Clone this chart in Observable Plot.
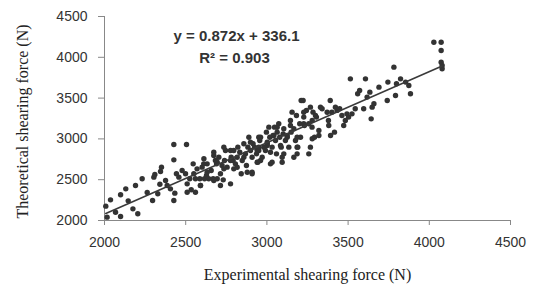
<!DOCTYPE html>
<html>
<head>
<meta charset="utf-8">
<script src="https://cdn.jsdelivr.net/npm/d3@7"></script>
<script src="https://cdn.jsdelivr.net/npm/@observablehq/plot@0.6"></script>
<style>
  html, body { margin: 0; padding: 0; background: #fff; }
  #chart svg { display: block; }
</style>
</head>
<body>
<div id="chart"></div>
<script>
// Experimental shearing force (N)
const expX = [
  2008,2016,2037,2068,2099,2099,2131,2146,2175,2191,2205,2232,2263,2296,2304,2310,2328,2341,2345,2351,
  2376,2386,2406,2427,2427,2427,2433,2443,2458,2478,2499,2505,2509,2525,2534,2546,2560,2570,2587,2591,
  2601,2612,2616,2628,2632,2642,2657,2669,2673,2683,2690,2694,2704,2714,2714,2724,2731,2739,2745,2755,
  2776,2780,2792,2796,2806,2817,2821,2833,2842,2848,2858,2868,2874,2883,2889,2899,2909,2915,2924,2936,
  2944,2950,2956,2971,2981,2991,2997,3002,3012,3018,3022,3032,3038,3047,3053,3059,3063,3073,3079,3088,
  3094,3100,3114,3125,3135,3145,3149,3155,3166,3176,3182,3186,3190,3202,3207,3211,3223,3227,3231,3243,
  3258,3278,3284,3293,3305,3320,3330,3340,3379,3390,3400,3416,3432,3448,3462,3473,3483,3493,3503,3514,
  3524,3544,3559,3571,3596,3607,3617,3634,3642,3648,3659,3690,3741,3745,3782,3792,3798,3823,3854,3874,
  3884,4028,4073,4073,4073,4079,4079,
  3268,3227,3299,3371,3422,3279,3227,3381,3063,3145,3104,3320,3392,2950,3043,3125,3186,3279,3002,3084,
  3186,3268,2940,3022,3104,3258,2961,3032,3166,3094,2909,
  2673,2735,2796,2899,2961,2950,3002,2611,2694,2776,2858,2940,2550,2632,2735,2817,2879,2509,2591,2673,
  2776,2909,2560
];
// Theoretical shearing force (N)
const theoY = [
  2176,2041,2253,2102,2049,2315,2388,2241,2143,2429,2082,2511,2343,2245,2531,2564,2327,2445,2600,2654,
  2490,2429,2388,2931,2743,2245,2335,2572,2531,2613,2572,2931,2347,2511,2376,2694,2511,2633,2511,2429,
  2654,2756,2511,2551,2694,2511,2613,2511,2837,2735,2694,2511,2776,2572,2429,2674,2498,2735,2858,2654,
  2858,2776,2735,2633,2694,2776,2899,2837,2572,2735,2940,2817,2674,2899,3021,2858,2776,2940,2899,2817,
  2715,2858,2981,2776,2899,2858,3083,2960,3144,3021,2694,2899,3042,3144,2981,2817,3083,3185,3021,2899,
  2776,3062,2981,3021,2899,3226,3083,3328,3124,2981,3287,2817,2899,3185,3021,3471,3471,3267,3165,3349,
  3185,3144,3328,3021,3267,3042,3389,3369,3226,3471,3328,3083,3349,3369,3287,3165,3226,3307,3267,3736,
  3307,3369,3553,3593,3369,3736,3512,3573,3246,3389,3430,3634,3471,3696,3879,3532,3675,3736,3696,3654,
  3553,4185,4185,4083,3940,3900,3859,
  3389,3327,3287,3327,3389,3225,3185,3164,3143,3164,3124,3103,3041,3021,3041,3041,3021,3001,2940,2919,
  2899,2899,2858,2837,2817,2817,2735,2714,2776,2714,2592,
  2797,2899,2858,2960,3021,2899,2919,2694,2714,2735,2776,2714,2572,2592,2633,2653,2592,2449,2429,2490,
  2449,2572,2347
];
// Trend line shown in the chart: y = 0.872x + 336.1 over the data range
const trendSlope = 0.872;
const trendIntercept = 336.1;
const trendX = [2008, 4079];
const xTicks = [2000, 2500, 3000, 3500, 4000, 4500];
const yTicks = [2000, 2500, 3000, 3500, 4000, 4500];
const equationLines = ["y = 0.872x + 336.1", "R\u00B2 = 0.903"];
const xTitle = "Experimental shearing force (N)";
const yTitle = "Theoretical shearing force (N)";

const points = expX.map((x, i) => ({x, y: theoY[i]}));
const trend = trendX.map(x => ({x, y: trendSlope * x + trendIntercept}));

const chart = Plot.plot({
  width: 546,
  height: 287,
  marginLeft: 104,
  marginRight: 36,
  marginTop: 16,
  marginBottom: 67,
  style: {fontFamily: "'Liberation Sans', Arial, sans-serif", fontSize: "14px", background: "#fff", color: "#333"},
  x: {domain: [2000, 4500]},
  y: {domain: [2000, 4500]},
  marks: [
    Plot.axisX({ticks: xTicks, tickFormat: "d", tickSize: 5, tickPadding: 12, label: null, stroke: "#888", strokeOpacity: 1, fill: "#333", fontSize: 14}),
    Plot.axisY({ticks: yTicks, tickFormat: "d", tickSize: 6, tickPadding: 11, label: null, stroke: "#888", strokeOpacity: 1, fill: "#333", fontSize: 14}),
    Plot.ruleY([2000], {stroke: "#888", strokeWidth: 1}),
    Plot.ruleX([2000], {stroke: "#888", strokeWidth: 1}),
    Plot.dot(points, {x: "x", y: "y", r: 2.7, fill: "#333", stroke: "none"}),
    Plot.line(trend, {x: "x", y: "y", stroke: "#3a3a3a", strokeWidth: 1.6}),
    Plot.text([equationLines[0]], {text: d => d, frameAnchor: "top", dx: -71, dy: 24, lineAnchor: "bottom", fontWeight: "bold", fontSize: 15, fill: "#333"}),
    Plot.text([equationLines[1]], {text: d => d, frameAnchor: "top", dx: -73, dy: 46, lineAnchor: "bottom", fontWeight: "bold", fontSize: 15, fill: "#333"}),
    Plot.text([xTitle], {text: d => d, frameAnchor: "bottom", dy: 59, lineAnchor: "bottom", fontFamily: "'Liberation Serif', 'Times New Roman', serif", fontSize: 16, fill: "#222"}),
    Plot.text([yTitle], {text: d => d, frameAnchor: "left", dx: -77, dy: 3, rotate: -90, textAnchor: "middle", lineAnchor: "bottom", fontFamily: "'Liberation Serif', 'Times New Roman', serif", fontSize: 16, fill: "#222"})
  ]
});
document.getElementById("chart").appendChild(chart);
</script>
</body>
</html>
